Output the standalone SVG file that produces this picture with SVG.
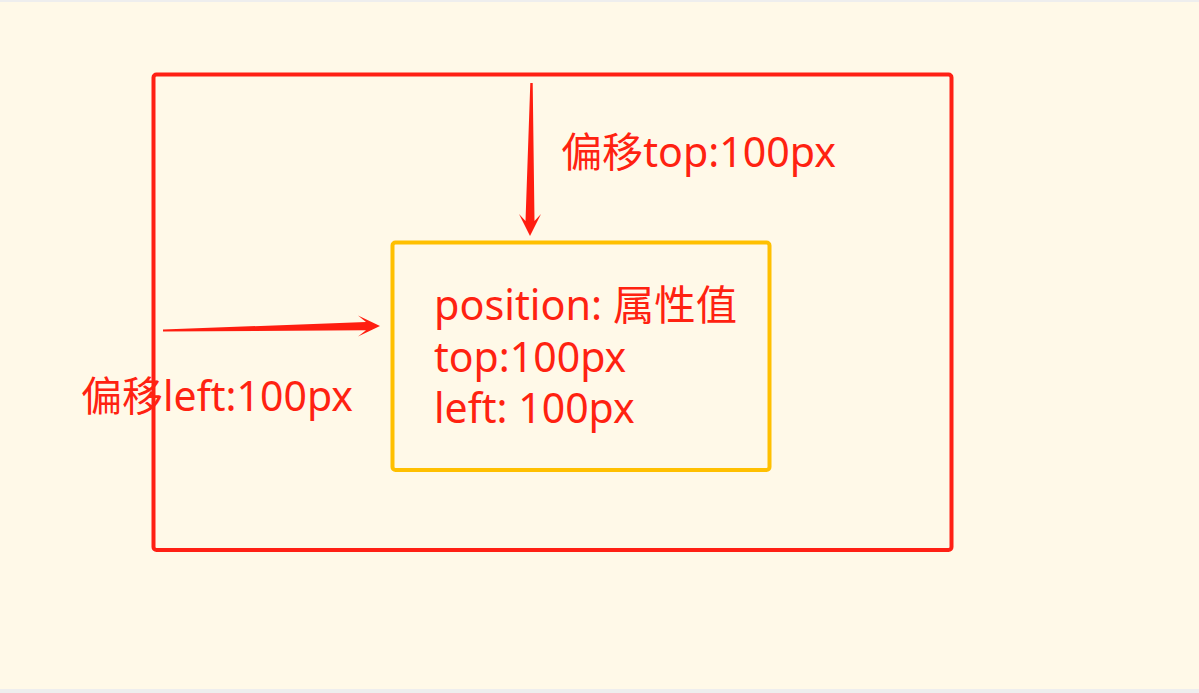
<svg xmlns="http://www.w3.org/2000/svg" width="1199" height="693" viewBox="0 0 1199 693">
<style>
.lbl{font-family:"Noto Sans","Noto Sans CJK SC",sans-serif;font-size:41px;fill:#FF2211;}
.arrow{fill:#FF1E10;}
</style>
<rect x="0" y="0" width="1199" height="693" fill="#EEEEEE"/>
<rect x="0" y="2" width="1199" height="687" fill="#FFF9E8"/>
<g id="outer">
<rect x="153.5" y="74.5" width="798" height="475.5" rx="3" fill="none" stroke="#FF2014" stroke-width="4"/>
</g>
<g id="inner">
<rect x="392.5" y="242.5" width="377" height="227.5" rx="3" fill="none" stroke="#FFC000" stroke-width="4"/>
<text class="lbl" x="434" y="320" textLength="303" lengthAdjust="spacingAndGlyphs">position: 属性值</text>
<text class="lbl" x="434" y="372">top:100px</text>
<text class="lbl" x="434" y="423">left: 100px</text>
</g>
<g id="label-top">
<text class="lbl" x="561" y="167" textLength="275" lengthAdjust="spacingAndGlyphs">偏移top:100px</text>
</g>
<g id="label-left">
<text class="lbl" x="81" y="411" textLength="272" lengthAdjust="spacingAndGlyphs">偏移left:100px</text>
</g>
<g id="connectors">
<polygon class="arrow" points="530.3,83 532.7,83 534.5,221 541,214 530,236 519,214 525.5,221"/>
<polygon class="arrow" points="163,329.5 366,322 358,315.5 380,326 358,336.5 366,330.2 163,331.5"/>
</g>
</svg>
